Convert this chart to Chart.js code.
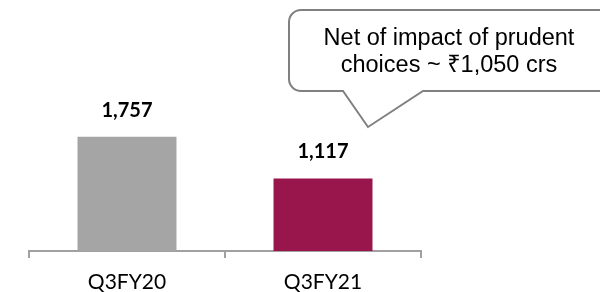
<!DOCTYPE html>
<html>
<head>
<meta charset="utf-8">
<script src="https://cdn.jsdelivr.net/npm/chart.js@4.4.1/dist/chart.umd.min.js"></script>
<style>
html,body{margin:0;padding:0;background:#fff;}
#wrap{width:600px;height:292px;position:relative;}
</style>
</head>
<body>
<div id="wrap"><canvas id="c" width="600" height="292"></canvas></div>
<script>
const categories = ['Q3FY20', 'Q3FY21'];
const values = [1757, 1117];
const valueLabels = ['1,757', '1,117'];
const barColors = ['#a5a5a5', '#98164b'];
const calloutLines = ['Net of impact of prudent', 'choices ~ \u20B91,050 crs'];

const valueLabelPlugin = {
  id: 'valueLabels',
  afterDatasetsDraw(chart) {
    const ctx = chart.ctx;
    const meta = chart.getDatasetMeta(0);
    ctx.save();
    ctx.font = 'bold 20px Lato, "Liberation Sans", sans-serif';
    ctx.fillStyle = '#000';
    ctx.textAlign = 'center';
    ctx.textBaseline = 'alphabetic';
    meta.data.forEach((bar, i) => {
      ctx.fillText(valueLabels[i], bar.x, bar.y - 20);
    });
    ctx.restore();
  }
};

const calloutPlugin = {
  id: 'callout',
  afterDraw(chart) {
    const ctx = chart.ctx;
    const L = 289, T = 10, R = 612, B = 91, r = 12;
    const p1 = 343, p2 = 423, tipX = 368, tipY = 127;
    ctx.save();
    ctx.beginPath();
    ctx.moveTo(L + r, T);
    ctx.lineTo(R - r, T);
    ctx.arcTo(R, T, R, T + r, r);
    ctx.lineTo(R, B - r);
    ctx.arcTo(R, B, R - r, B, r);
    ctx.lineTo(p2, B);
    ctx.lineTo(tipX, tipY);
    ctx.lineTo(p1, B);
    ctx.lineTo(L + r, B);
    ctx.arcTo(L, B, L, B - r, r);
    ctx.lineTo(L, T + r);
    ctx.arcTo(L, T, L + r, T, r);
    ctx.closePath();
    ctx.fillStyle = '#fff';
    ctx.fill();
    ctx.strokeStyle = '#808080';
    ctx.lineWidth = 2;
    ctx.stroke();
    ctx.fillStyle = '#000';
    ctx.font = '23.5px "Liberation Sans", Arial, "Noto Sans", sans-serif';
    ctx.textAlign = 'center';
    ctx.textBaseline = 'alphabetic';
    ctx.fillText(calloutLines[0], 449, 45);
    ctx.fillText(calloutLines[1], 449, 72);
    ctx.restore();
  }
};

new Chart(document.getElementById('c'), {
  type: 'bar',
  data: {
    labels: categories,
    datasets: [{
      data: values,
      backgroundColor: barColors,
      borderWidth: 0,
      barPercentage: 1,
      categoryPercentage: 0.505
    }]
  },
  options: {
    responsive: false,
    animation: false,
    devicePixelRatio: 1,
    layout: { padding: { left: 29, right: 179, top: 56, bottom: 0 } },
    plugins: { legend: { display: false }, tooltip: { enabled: false } },
    scales: {
      y: { display: false, min: 0, max: 3000 },
      x: {
        afterFit(s) { s.height = 41; },
        border: { display: true, color: '#a0a0a0', width: 2 },
        grid: { display: true, drawOnChartArea: false, drawTicks: true, tickLength: 7, color: '#a0a0a0', lineWidth: 2, offset: true },
        ticks: { color: '#000', font: { family: 'Lato, "Liberation Sans", sans-serif', size: 21 }, padding: 12 }
      }
    }
  },
  plugins: [valueLabelPlugin, calloutPlugin]
});
</script>
</body>
</html>
